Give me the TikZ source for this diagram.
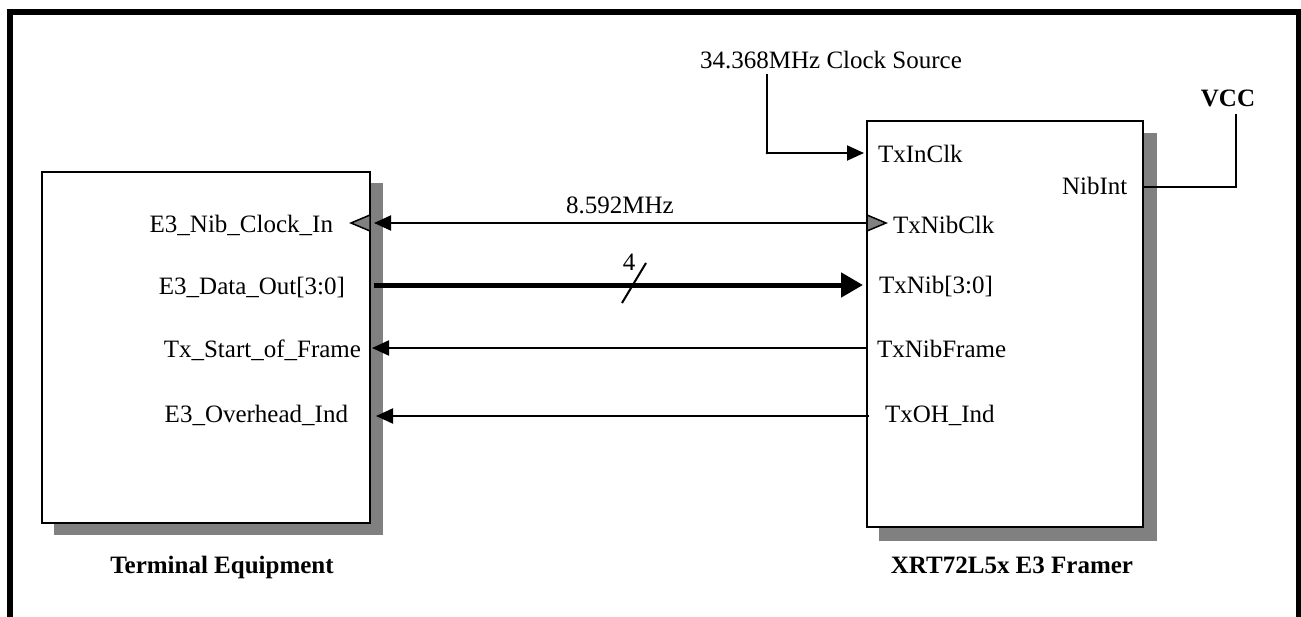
\documentclass[tikz,border=0pt]{standalone}
\usepackage{fontspec}
\setmainfont{Liberation Serif}
\usetikzlibrary{arrows.meta}
\definecolor{shadowgray}{HTML}{808080}
\begin{document}
\begin{tikzpicture}[x=1pt,y=-1pt,
  every node/.style={inner sep=0pt,outer sep=0pt,font=\fontsize{25}{30}\selectfont},
  blk/.style={draw=black,line width=2.4pt,fill=white},
  sig/.style={line width=2pt,-{Triangle[length=17pt,width=15pt]}},
  bus/.style={line width=5pt,-{Triangle[length=22pt,width=24pt]}},
  wire/.style={line width=2pt},
  clkmark/.style={fill=shadowgray,draw=black,line width=1.5pt,line join=miter},
  title/.style={font=\fontsize{25}{30}\selectfont\bfseries}]
\useasboundingbox (0,0) rectangle (1301,616);
\clip (0,0) rectangle (1301,616);
% outer frame
\draw[line width=5.5pt] (10,12) rectangle (1299,700);

% shadows
\fill[shadowgray] (54,183) rectangle (383,535);
\fill[shadowgray] (879,133) rectangle (1157,541);

% boxes
\node[blk,minimum width=328pt,minimum height=351pt,anchor=north west] (te) at (42,172) {};
\node[blk,minimum width=276pt,minimum height=406pt,anchor=north west] (fr) at (867,121) {};

% pins
\coordinate (teClk) at (370,223);
\coordinate (teData) at (370,285);
\coordinate (teSof) at (370,348);
\coordinate (teOH) at (370,416);
\coordinate (frInClk) at (867,153);
\coordinate (frClk) at (867,223);
\coordinate (frData) at (867,285);
\coordinate (frSof) at (867,348);
\coordinate (frOH) at (867,416);
\coordinate (frNib) at (1143,187);

% titles
\node[title,anchor=base] (tetitle) at (222,573) {Terminal Equipment};
\node[title,anchor=base] (frtitle) at (1012,573) {XRT72L5x E3 Framer};

% left labels
\node[anchor=base east] (lClk) at (333,232) {E3\_Nib\_Clock\_In};
\node[anchor=base east] (lData) at (345,294) {E3\_Data\_Out[3:0]};
\node[anchor=base east] (lSof) at (361,357) {Tx\_Start\_of\_Frame};
\node[anchor=base east] (lOH) at (348,422) {E3\_Overhead\_Ind};

% right labels
\node[anchor=base west] (rInClk) at (878,162) {TxInClk};
\node[anchor=base west] (rNibInt) at (1062,194) {NibInt};
\node[anchor=base west] (rClk) at (893,233) {TxNibClk};
\node[anchor=base west] (rData) at (879,293) {TxNib[3:0]};
\node[anchor=base west] (rSof) at (877,357) {TxNibFrame};
\node[anchor=base west] (rOH) at (885,422) {TxOH\_Ind};

% clock source
\node[anchor=base] (clksrc) at (831,68) {34.368MHz Clock Source};
\coordinate (clktop) at (767,74);
\draw[sig] (clktop) |- ([xshift=-3pt]frInClk);
\fill (767,153) circle (1.3pt);

% VCC
\node[title,anchor=base] (vcc) at (1228,106) {VCC};
\coordinate (vccpin) at (1236,114);
\draw[wire] (frNib) -| (vccpin);

% 8.592 MHz clock
\draw[sig] (frClk) -- ([xshift=4pt]teClk);
\node[anchor=base] (freq) at (620,213) {8.592MHz};
\draw[clkmark] (370,215) -- (370,231) -- (351,223) -- cycle;
\draw[clkmark] (867,215) -- (867,231) -- (886,223) -- cycle;

% data bus
\draw[bus] ([xshift=4pt]teData) -- ([xshift=-4pt]frData);
\draw[wire] (622,303) -- (646,263);
\node[anchor=base] (buswidth) at (629,270) {4};

% frame and overhead
\draw[sig] (frSof) -- ([xshift=2pt]teSof);
\draw[sig] ([xshift=2pt]frOH) -- ([xshift=6pt]teOH);
\end{tikzpicture}
\end{document}
